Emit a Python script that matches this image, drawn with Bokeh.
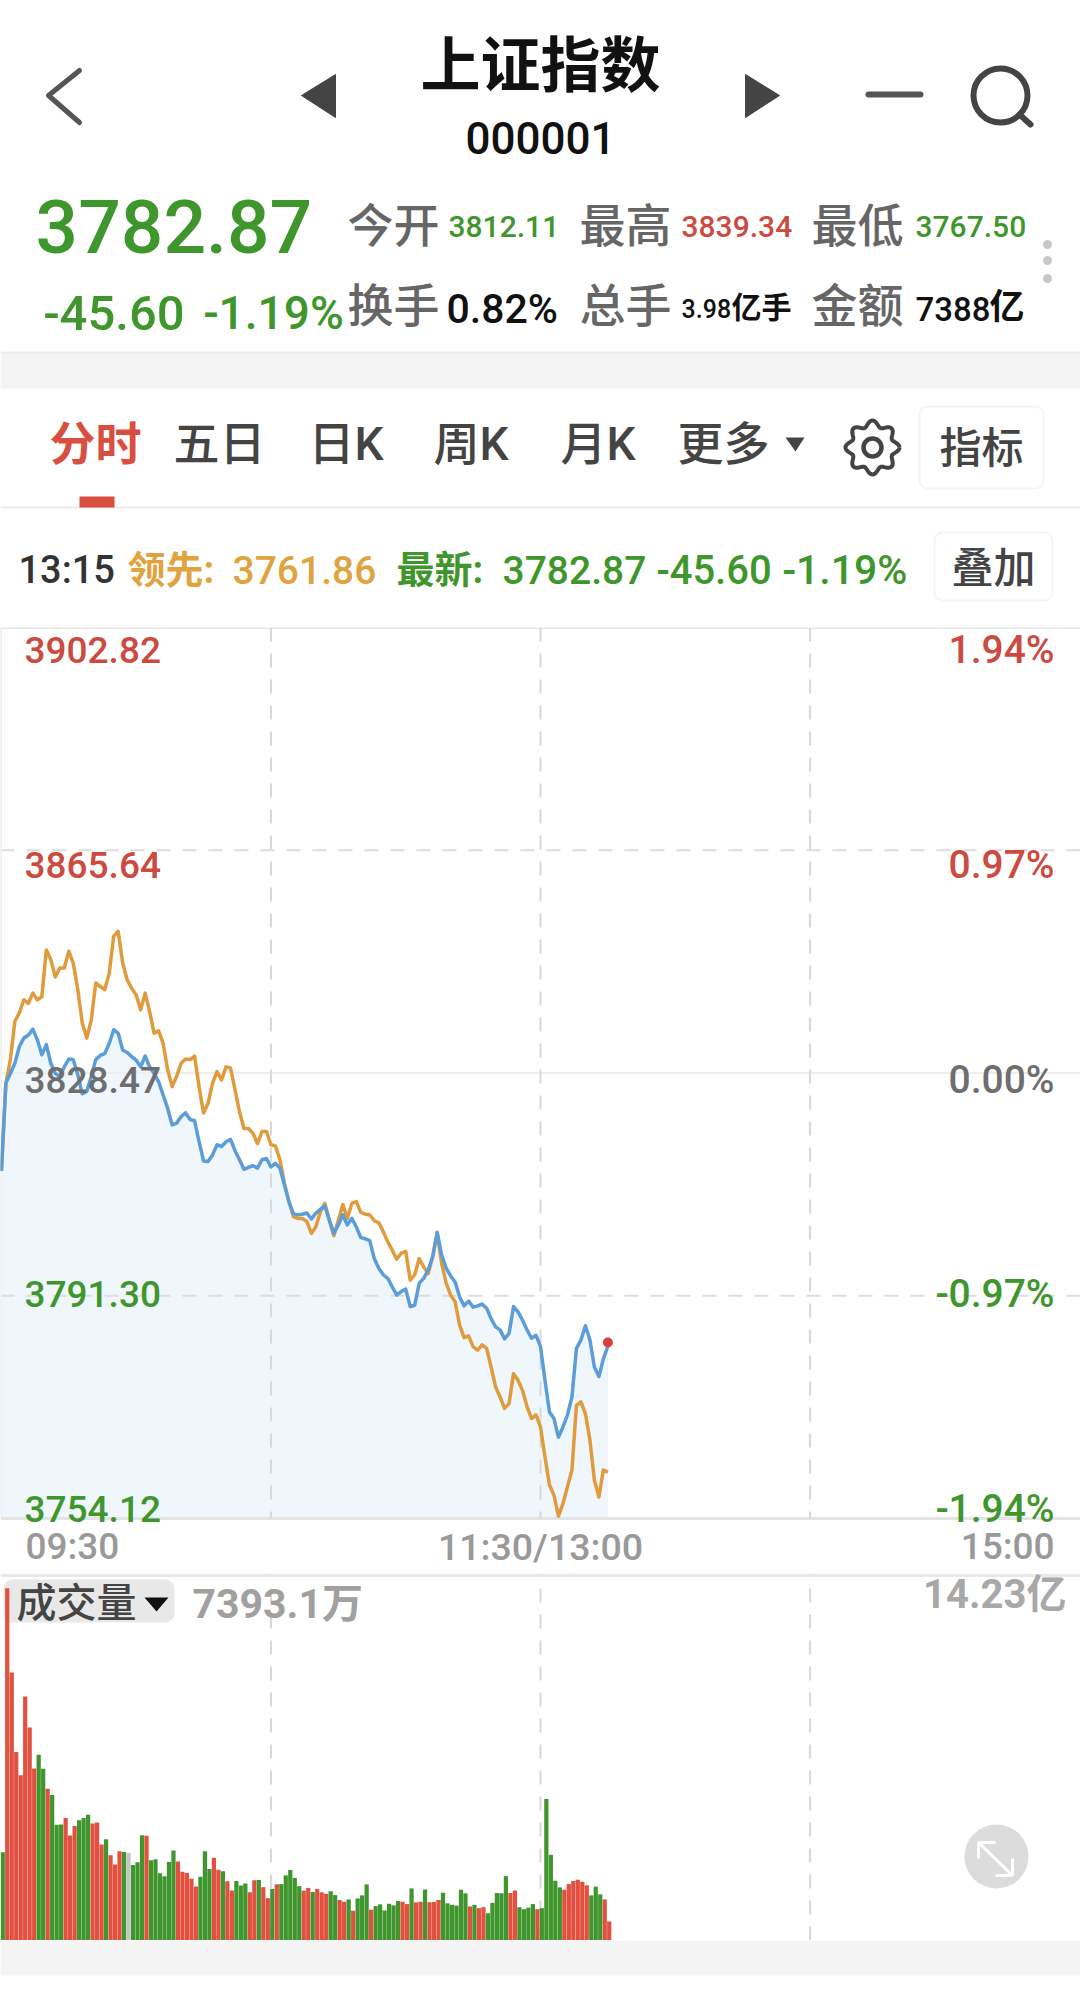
import math
from bokeh.plotting import figure
from bokeh.layouts import column
from bokeh.models import Range1d, BoxAnnotation
from bokeh.core.properties import value
from bokeh.embed import file_html
from bokeh.resources import INLINE

# ---------- data ----------
latest = [3812.11,3826.8,3828.4,3830.1,3832.9,3834.3,3834.8,3835.8,3834.0,3831.5,3833.2,3830.1,3828.4,3827.9,3829.5,3830.8,3830.7,3828.2,3825.0,3825.4,
          3827.9,3830.7,3831.4,3831.7,3833.4,3835.7,3835.1,3832.3,3831.9,3831.2,3830.6,3829.5,3831.3,3829.5,3828.4,3827.0,3824.8,3822.6,3819.8,3820.1,
          3821.2,3821.8,3820.7,3820.5,3817.0,3813.8,3813.7,3814.8,3816.5,3816.2,3817.0,3817.4,3815.5,3814.0,3812.4,3812.7,3813.0,3812.6,3814.0,3814.2,
          3812.8,3813.4,3812.6,3809.8,3807.0,3805.0,3804.8,3804.9,3805.1,3804.1,3805.1,3805.7,3806.3,3803.9,3801.7,3803.1,3804.8,3803.1,3804.2,3802.8,
          3801.0,3800.8,3800.5,3797.5,3795.9,3794.8,3794.2,3792.8,3791.4,3792.0,3792.4,3789.5,3789.7,3793.4,3794.2,3795.6,3797.8,3801.9,3798.1,3795.9,
          3794.6,3793.6,3791.1,3789.6,3790.4,3789.4,3789.6,3789.9,3789.2,3787.5,3786.1,3785.6,3784.1,3785.0,3789.5,3788.6,3787.2,3785.6,3784.2,3784.7,
          3782.8,3777.2,3771.9,3770.8,3767.7,3769.4,3771.4,3774.4,3782.5,3783.9,3786.3,3783.9,3779.4,3777.8,3780.8,3782.87]
leader = [3812.11,3826.8,3830.7,3837.1,3838.5,3840.7,3840.1,3841.8,3840.7,3841.2,3849.0,3847.4,3844.5,3846.0,3846.0,3848.8,3846.8,3842.4,3836.8,3834.3,
          3837.3,3843.5,3842.9,3842.4,3845.1,3851.3,3852.1,3846.8,3844.0,3842.6,3841.5,3839.0,3841.8,3838.7,3835.1,3835.5,3833.4,3829.0,3826.2,3827.9,
          3830.1,3830.8,3830.7,3831.3,3826.2,3821.8,3823.4,3826.8,3828.7,3827.3,3829.5,3829.3,3825.7,3822.0,3819.2,3819.2,3818.4,3816.7,3818.7,3818.7,
          3816.5,3816.3,3814.0,3810.1,3807.0,3804.5,3804.2,3804.2,3803.7,3801.7,3802.8,3805.3,3806.7,3803.9,3801.3,3803.9,3806.5,3804.2,3806.7,3807.0,
          3805.2,3804.9,3804.8,3803.8,3803.5,3802.0,3800.3,3798.9,3797.4,3798.4,3798.7,3793.9,3794.8,3797.5,3796.1,3795.0,3797.8,3801.7,3796.7,3793.4,
          3791.4,3790.3,3786.4,3784.3,3784.6,3782.8,3782.2,3783.1,3782.5,3779.4,3776.1,3774.4,3772.5,3773.3,3778.3,3777.2,3775.5,3772.8,3770.8,3771.4,
          3769.4,3764.4,3759.7,3758.0,3754.5,3756.6,3759.4,3762.2,3773.0,3773.6,3771.6,3767.2,3760.5,3757.7,3762.2,3761.86]
volume = [3.44,13.73,10.45,7.35,6.44,9.51,8.30,6.71,7.24,6.70,5.92,5.67,4.51,4.52,4.78,4.09,4.46,4.69,4.78,4.90,
          4.56,4.60,3.74,3.95,3.32,2.96,3.48,3.45,3.41,2.94,3.05,4.10,4.08,3.13,3.17,2.62,2.50,3.06,3.51,3.08,
          2.68,2.63,2.41,2.11,2.49,3.48,2.79,3.23,2.76,2.70,2.31,1.95,2.32,2.14,2.22,1.88,2.35,2.36,2.08,1.65,
          2.01,2.19,2.20,2.54,2.75,2.44,2.12,1.94,2.05,1.89,2.01,1.88,1.82,1.92,1.77,1.58,1.51,1.60,1.16,1.64,
          1.76,2.19,1.20,1.34,1.41,1.17,1.43,1.37,1.54,1.51,1.42,2.03,1.49,1.51,1.99,1.49,1.50,1.58,1.86,1.45,
          1.39,1.36,1.98,1.84,1.33,1.39,1.26,1.30,1.06,1.47,1.85,1.84,2.51,1.85,1.95,1.30,1.22,1.28,1.42,1.22,
          1.26,5.52,3.34,2.33,2.07,1.98,2.20,2.32,2.37,2.29,2.15,1.76,2.10,1.80,1.60,0.74]
# one entry per bar: (run length, g = down / r = up / n = flat)
vol_runs = [(1,"g"),(7,"r"),(2,"g"),(1,"r"),(3,"g"),(3,"r"),(3,"g"),(3,"r"),(1,"g"),(3,"r"),(1,"g"),(1,"n"),(3,"g"),(1,"r"),
            (6,"g"),(5,"r"),(3,"g"),(2,"r"),(1,"g"),(2,"r"),(3,"g"),(2,"r"),(1,"g"),(2,"r"),(1,"g"),(1,"r"),(5,"g"),(2,"r"),
            (1,"g"),(3,"r"),(2,"g"),(2,"r"),(1,"g"),(1,"r"),(3,"g"),(1,"r"),(6,"g"),(2,"r"),(1,"g"),(2,"r"),(1,"g"),(3,"r"),
            (6,"g"),(1,"r"),(1,"g"),(2,"r"),(5,"g"),(2,"r"),(4,"g"),(1,"r"),(5,"g"),(6,"r"),(3,"g"),(2,"r")]
price_levels = [3902.82, 3865.64, 3828.47, 3791.30, 3754.12]
price_labels = ["3902.82", "3865.64", "3828.47", "3791.30", "3754.12"]
pct_labels = ["1.94%", "0.97%", "0.00%", "-0.97%", "-1.94%"]
time_ticks = [0, 120, 240]
time_labels = ["09:30", "11:30/13:00", "15:00"]
grid_times = [60, 120, 180]
vol_max = 14.23
last_dot = 3783.5

GREEN, RED, ORANGE, BLUE = "#3f962d", "#e2503f", "#e09b3d", "#5b9dd9"
TXTRED = "#cc4a3f"
LBLUE = "#eff6fc"
FONT = value("'Roboto Medium', 'Noto Sans CJK SC Medium', Roboto, 'Noto Sans CJK SC', sans-serif")
BOLD = value("Roboto, 'Noto Sans CJK SC', sans-serif")
WIDTH = 1080
minutes = list(range(len(latest)))


def make(height, xr, yr):
    p = figure(width=WIDTH, height=height, x_range=xr, y_range=yr, x_axis_type=None, y_axis_type=None,
               output_backend="svg", toolbar_location=None, min_border=0, outline_line_color=None,
               background_fill_color="white", border_fill_color="white")
    p.grid.visible = False
    return p


def put(p, x, y, s, size, color, align="left", bold=False, xo=0, yo=0):
    p.text(x=[x], y=[y], text=[s], text_font=BOLD if bold else FONT, text_font_size=value(f"{size}px"),
           text_color=color, text_align=align, text_baseline="middle",
           text_font_style="bold" if bold else "normal", x_offset=xo, y_offset=yo)


# ---------- header ----------
h = make(627, Range1d(0, 1080), Range1d(627, 0))
put(h, 540, 66, "上证指数", 60, "#111111", "center", True)
put(h, 540, 137, "000001", 44, "#111111", "center")
h.line([79, 48, 79], [70, 95, 122], line_color="#555555", line_width=5, line_join="round", line_cap="round")
h.patch([335, 335, 301], [74, 117, 95], fill_color="#444444", line_color="#444444")
h.patch([745, 745, 779], [74, 117, 95], fill_color="#444444", line_color="#444444")
h.line([868, 920], [94, 94], line_color="#555555", line_width=6, line_cap="round")
h.circle(x=[1000], y=[95], radius=27, fill_color=None, line_color="#444444", line_width=6)
h.line([1019, 1030], [114, 124], line_color="#444444", line_width=6, line_cap="round")

put(h, 35, 226, "3782.87", 75, GREEN)
put(h, 43, 312, "-45.60", 49, GREEN)
put(h, 203, 312, "-1.19%", 46, GREEN)
GR = "#666666"
for x, s in [(347, "今开"), (579, "最高"), (811, "最低")]:
    put(h, x, 225, s, 46, GR)
for x, s in [(347, "换手"), (579, "总手"), (811, "金额")]:
    put(h, x, 305, s, 46, GR)
put(h, 448, 226, "3812.11", 30, GREEN)
put(h, 681, 226, "3839.34", 30, TXTRED)
put(h, 915, 226, "3767.50", 30, GREEN)
put(h, 446, 308, "0.82%", 41, "#111111")
put(h, 681, 308, "3.98", 25, "#111111")
put(h, 731, 307, "亿手", 30, "#111111", bold=True)
put(h, 915, 308, "7388", 33, "#111111")
put(h, 989, 307, "亿", 35, "#111111", bold=True)
h.scatter(x=[1047, 1047, 1047], y=[244, 260, 278], size=9, marker="circle", fill_color="#c8c8c8", line_color=None)

h.quad(left=[0], right=[1080], top=[352], bottom=[388], fill_color="#f4f4f4", line_color=None)
h.segment([0], [352], [1080], [352], line_color="#ececec", line_width=2)
h.segment([0], [507], [1080], [507], line_color="#ececec", line_width=2)
h.quad(left=[79], right=[114], top=[496], bottom=[507], fill_color="#d94f3f", line_color=None)

put(h, 49, 443, "分时", 46, "#d94f3f", bold=True)
TB = "#444444"
for x, s in [(173, "五日"), (308, "日K"), (433, "周K"), (560, "月K"), (677, "更多")]:
    put(h, x, 443, s, 46, TB)
h.patch([785, 804, 795], [437, 437, 451], fill_color="#444444", line_color=None)
n = 240
gx = [872 + (24 + 3 * math.cos(8 * 2 * math.pi * i / n)) * math.cos(2 * math.pi * i / n) for i in range(n + 1)]
gy = [447 + (24 + 3 * math.cos(8 * 2 * math.pi * i / n)) * math.sin(2 * math.pi * i / n) for i in range(n + 1)]
h.line(gx, gy, line_color="#444444", line_width=4)
h.circle(x=[872], y=[447], radius=9, fill_color=None, line_color="#444444", line_width=4.5)
h.add_layout(BoxAnnotation(left=919, right=1043, top=406, bottom=488, fill_color=None, fill_alpha=0,
                           line_color="#dcdcdc", line_width=2, border_radius=8, level="underlay"))
put(h, 981, 448, "指标", 42, TB, "center")

put(h, 18, 569, "13:15", 38, "#333333")
put(h, 127, 569, "领先:", 38, "#e0a33e", bold=True)
put(h, 232, 569, "3761.86", 39, "#e0a33e")
put(h, 396, 569, "最新:", 38, GREEN, bold=True)
put(h, 502, 569, "3782.87", 39, GREEN)
put(h, 656, 569, "-45.60", 40, GREEN)
put(h, 782, 569, "-1.19%", 41, GREEN)
h.add_layout(BoxAnnotation(left=934, right=1052, top=532, bottom=600, fill_color=None, fill_alpha=0,
                           line_color="#dcdcdc", line_width=2, border_radius=8, level="underlay"))
put(h, 993, 568, "叠加", 42, TB, "center")

# ---------- price panel (with the time labels under it, 627 -> 1570 px) ----------
xr = Range1d(-0.2, 240.2)
span = price_levels[0] - price_levels[-1]
pr = make(943, xr, Range1d(price_levels[-1] - span * 52 / 891, price_levels[0]))
pr.varea(x=minutes, y1=latest, y2=[price_levels[-1]] * len(minutes), fill_color=LBLUE)
x0, x1 = xr.start, xr.end
pr.segment([x0], [price_levels[0]], [x1], [price_levels[0]], line_color="#e8e8e8", line_width=3)
pr.segment([x0], [price_levels[2]], [x1], [price_levels[2]], line_color="#eeeeee", line_width=2)
for lv in (price_levels[1], price_levels[3]):
    pr.segment([x0], [lv], [x1], [lv], line_color="#dddddd", line_width=2, line_dash="14 12")
pr.segment([x0], [price_levels[4]], [x1], [price_levels[4]], line_color="#e4e4e4", line_width=3)
pr.segment([x0], [price_levels[0]], [x0], [price_levels[4]], line_color="#eeeeee", line_width=3)
for t in grid_times:
    pr.segment([t], [price_levels[0]], [t], [price_levels[4]], line_color="#d8d8d8", line_width=2, line_dash="14 12")
pr.line(minutes, leader, line_color=ORANGE, line_width=3.5, line_join="round")
pr.line(minutes, latest, line_color=BLUE, line_width=3.5, line_join="round")
pr.scatter(x=[minutes[-1]], y=[last_dot], size=10, marker="circle", fill_color="#d8403a", line_color=None)
offs = [22, 15, 7, -2, -10]
lcol = [TXTRED, TXTRED, "#6e6e6e", GREEN, GREEN]
for lv, a, b, o, c in zip(price_levels, price_labels, pct_labels, offs, lcol):
    put(pr, x0, lv, a, 37, c, "left", xo=24, yo=o)
    put(pr, x1, lv, b, 39, c, "right", xo=-26, yo=o)

TC = "#999999"
put(pr, time_ticks[0], price_levels[4], time_labels[0], 37, TC, "left", xo=24, yo=28)
put(pr, time_ticks[1], price_levels[4], time_labels[1], 37.5, TC, "center", yo=28)
put(pr, time_ticks[2], price_levels[4], time_labels[2], 37, TC, "right", xo=-25, yo=28)


# ---------- volume panel (1570 -> 1940 px) ----------
def vx(ref):  # page pixel -> panel x
    return x0 + ref / WIDTH * (x1 - x0)


def vy(ref):  # page pixel -> panel y
    return (1940 - ref) / 365 * vol_max


v = make(370, xr, Range1d(0, vy(1570)))
v.segment([x0], [vol_max], [x1], [vol_max], line_color="#e8e8e8", line_width=3)
for t in grid_times:
    v.segment([t], [0], [t], [vol_max], line_color="#d8d8d8", line_width=2, line_dash="14 12")
cmap = {"g": GREEN, "r": RED, "n": "#c4c4c4"}
colors = [cmap[d] for cnt, d in vol_runs for _ in range(cnt)]
v.vbar(x=[m + 0.3 for m in minutes], top=volume, bottom=0, width=0.94, fill_color=colors, line_color=None)
v.add_layout(BoxAnnotation(left=vx(3), right=vx(174), top=vy(1579), bottom=vy(1622), fill_color="#e8e8e8",
                           fill_alpha=1, line_color=None, border_radius=9, level="underlay"))
put(v, vx(16), vy(1603), "成交量", 40, "#444444")
v.patch([vx(144), vx(168), vx(156)], [vy(1597), vy(1597), vy(1611)], fill_color="#111111", line_color=None)
put(v, vx(192), vy(1603), "7393.1万", 41, "#a0a0a0", bold=True)
put(v, vx(1066), vy(1594), "14.23亿", 40, "#a8a8a8", "right", True)
v.scatter(x=[vx(996)], y=[vy(1856)], size=64, marker="circle", fill_color="#dcdcdc", line_color=None)
for xs, ys in [([978, 1012], [1842, 1875]), ([978, 978], [1858, 1842]), ([978, 995], [1842, 1842]),
               ([1012, 995], [1875, 1875]), ([1012, 1012], [1875, 1858])]:
    v.line([vx(a) for a in xs], [vy(b) for b in ys], line_color="white", line_width=3)

# ---------- footer ----------
f = make(50, Range1d(0, 1080), Range1d(1990, 1940))
f.quad(left=[0], right=[1080], top=[1940], bottom=[1975], fill_color="#f4f4f4", line_color=None)

page = column(h, pr, v, f, spacing=0)
open("out.html", "w").write(file_html(page, INLINE))
